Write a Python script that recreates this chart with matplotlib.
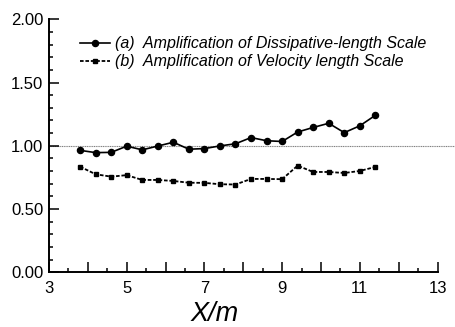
import matplotlib
matplotlib.use('Agg')
import matplotlib.pyplot as plt
from matplotlib.ticker import MultipleLocator, FuncFormatter

plt.rcParams['font.family'] = ['Liberation Sans', 'DejaVu Sans']

# posicoes ao longo do canal (X/m)
posicoes = [3.8, 4.2, 4.6, 5.0, 5.4, 5.8, 6.2, 6.6, 7.0, 7.4,
            7.8, 8.2, 8.6, 9.0, 9.4, 9.8, 10.2, 10.6, 11.0, 11.4]

# (a) escala dissipativa
ampl_dissipativa = [0.964, 0.946, 0.948, 0.997, 0.968, 0.998, 1.028, 0.973, 0.978, 0.999,
                    1.016, 1.065, 1.040, 1.034, 1.109, 1.145, 1.178, 1.104, 1.158, 1.241]

# (b) escala de velocidade
ampl_velocidade = [0.835, 0.775, 0.756, 0.768, 0.730, 0.730, 0.722, 0.708, 0.707, 0.696,
                   0.694, 0.738, 0.738, 0.736, 0.843, 0.793, 0.793, 0.785, 0.801, 0.833]

rotulos = ['(a)  Amplification of Dissipative-length Scale',
           '(b)  Amplification of Velocity length Scale']

fig = plt.figure(figsize=(4.55, 3.27), dpi=100)
ax = fig.add_axes([0.1077, 0.1673, 0.8923, 0.7737])

ax.plot(posicoes, ampl_dissipativa, '-', color='black', lw=1.2,
        marker='o', markersize=4.4, label=rotulos[0])
ax.plot(posicoes, ampl_velocidade, color='black', lw=1.3, linestyle=(0, (2, 1)),
        marker='s', markersize=3, label=rotulos[1])

# linha de referencia em 1.0
ax.axhline(1.0, color='gray', lw=0.8, linestyle=(0, (1, 0.6)), zorder=0)

ax.set_xlim(3, 13.45)
ax.set_ylim(0, 2)
ax.spines['bottom'].set_bounds(3, 13)
ax.spines['top'].set_visible(False)
ax.spines['right'].set_visible(False)
for lado in ['left', 'bottom']:
    ax.spines[lado].set_linewidth(1.4)

ax.xaxis.set_major_locator(MultipleLocator(1))
ax.xaxis.set_minor_locator(MultipleLocator(0.5))
ax.xaxis.set_major_formatter(FuncFormatter(lambda v, p: f'{int(round(v))}' if int(round(v)) % 2 == 1 else ''))
ax.yaxis.set_major_locator(MultipleLocator(0.5))
ax.yaxis.set_minor_locator(MultipleLocator(0.1))
ax.yaxis.set_major_formatter(FuncFormatter(lambda v, p: f'{v:.2f}'))

ax.tick_params(which='major', direction='in', length=7, width=1.1, labelsize=12)
ax.tick_params(which='minor', direction='in', length=3.2, width=1.1)
ax.tick_params(axis='x', which='major', pad=6)
ax.tick_params(axis='y', which='major', pad=4)

ax.set_xlabel('X/m', fontsize=19.5, style='italic', labelpad=4)
ax.xaxis.label.set_x(0.409)

ax.legend(loc='upper left', bbox_to_anchor=(0.077, 0.933), frameon=False,
          prop={'style': 'italic', 'size': 11.5}, handlelength=1.85,
          handletextpad=0.31, labelspacing=0.2, borderpad=0, borderaxespad=0)

fig.savefig('out.png', dpi=100)
